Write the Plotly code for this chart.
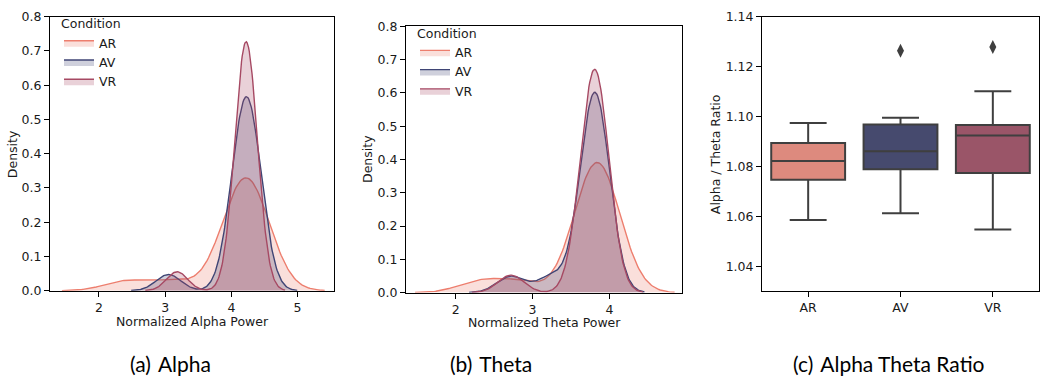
import numpy as np
import plotly.graph_objects as go

W, H = 1043, 390

conditions = ["AR", "AV", "VR"]
line_colors = ["#ed7e6e", "#3f4575", "#a64963"]
fill_colors = ["rgba(237,126,110,0.25)", "rgba(63,69,117,0.25)", "rgba(166,73,99,0.25)"]
box_colors = ["#dd8a7e", "#464a6e", "#9a5568"]

# Normalized alpha power samples per condition
alpha_ar = [2.40, 3.10, 3.98, 4.02, 4.08, 4.12, 4.16, 4.20, 4.22, 4.25, 4.28, 4.32, 4.36, 4.40, 4.45]
alpha_av = [3.05, 4.02, 4.08, 4.12, 4.15, 4.18, 4.20, 4.22, 4.23, 4.25, 4.28, 4.31, 4.34, 4.37, 4.43]
alpha_vr = [3.18, 4.11, 4.14, 4.17, 4.18, 4.20, 4.21, 4.22, 4.22, 4.24, 4.25, 4.26, 4.28, 4.30, 4.33]

# Normalized theta power samples per condition
theta_ar = [2.30, 2.80, 3.66, 3.70, 3.74, 3.77, 3.80, 3.82, 3.84, 3.86, 3.88, 3.91, 3.94, 3.98, 4.02]
theta_av = [2.72, 3.25, 3.70, 3.73, 3.75, 3.77, 3.79, 3.80, 3.81, 3.82, 3.84, 3.85, 3.87, 3.89, 3.91]
theta_vr = [2.72, 3.66, 3.70, 3.73, 3.76, 3.78, 3.79, 3.80, 3.81, 3.83, 3.85, 3.87, 3.88, 3.90, 3.93]

# Alpha / Theta ratio box statistics
ratio_q1 = [1.0747, 1.0789, 1.0774]
ratio_median = [1.0822, 1.0861, 1.0924]
ratio_q3 = [1.0894, 1.0968, 1.0966]
ratio_lowerfence = [1.0586, 1.0613, 1.0548]
ratio_upperfence = [1.0974, 1.0995, 1.1101]
outlier_condition = ["AV", "VR"]
outlier_value = [1.1263, 1.1279]

alpha_ticks = [2, 3, 4, 5]
theta_ticks = [2, 3, 4]
density_ticks = [0.0, 0.1, 0.2, 0.3, 0.4, 0.5, 0.6, 0.7, 0.8]
ratio_ticks = [1.04, 1.06, 1.08, 1.10, 1.12, 1.14]


def kde_curve(samples, n_total, gridsize=200, cut=3):
    x = np.asarray(samples, float)
    n = x.size
    bw = n ** (-1 / 5) * x.std(ddof=1)
    grid = np.linspace(x.min() - cut * bw, x.max() + cut * bw, gridsize)
    dens = np.exp(-0.5 * ((grid[:, None] - x[None, :]) / bw) ** 2).sum(1)
    dens /= n * bw * np.sqrt(2 * np.pi)
    return grid, dens * n / n_total


def px_x(p):
    return p / W


def px_y(p):
    return 1 - p / H


FONT = "DejaVu Sans, Verdana, Bitstream Vera Sans, sans-serif"
FS = 12.5
LFS = 12.5
TXT = "#1a1a1a"

fig = go.Figure()

for panel, groups, xa, ya, leg in [
    ("a", [alpha_ar, alpha_av, alpha_vr], "x", "y", "legend"),
    ("b", [theta_ar, theta_av, theta_vr], "x2", "y2", "legend2"),
]:
    n_total = sum(len(g) for g in groups)
    for i, g in enumerate(groups):
        gx, gy = kde_curve(g, n_total)
        fig.add_trace(go.Scatter(
            x=gx, y=gy, mode="lines", fill="tozeroy",
            fillcolor=fill_colors[i],
            line=dict(color=line_colors[i], width=1.4),
            name=conditions[i], xaxis=xa, yaxis=ya, legend=leg,
            showlegend=True,
        ))

for i, c in enumerate(conditions):
    fig.add_trace(go.Box(
        x=[c], q1=[ratio_q1[i]], median=[ratio_median[i]], q3=[ratio_q3[i]],
        lowerfence=[ratio_lowerfence[i]], upperfence=[ratio_upperfence[i]],
        fillcolor=box_colors[i], line=dict(color="#3f3f3f", width=2),
        whiskerwidth=0.5, width=0.8, boxpoints=False,
        xaxis="x3", yaxis="y3", showlegend=False, name=c,
    ))

fig.add_trace(go.Scatter(
    x=outlier_condition, y=outlier_value, mode="markers",
    marker=dict(symbol="diamond-tall", size=10, color="#3f3f3f"),
    xaxis="x3", yaxis="y3", showlegend=False,
))

axis_common = dict(
    showline=True, linecolor="black", linewidth=1, mirror=True,
    ticks="outside", ticklen=5, tickwidth=1, tickcolor="black",
    showgrid=False, zeroline=False,
    tickfont=dict(family=FONT, size=FS, color=TXT),
)

legend_common = dict(
    title=dict(text="Condition", font=dict(family=FONT, size=LFS, color=TXT)),
    font=dict(family=FONT, size=LFS, color=TXT),
    xanchor="left", yanchor="top", tracegroupgap=0,
    bgcolor="rgba(0,0,0,0)", borderwidth=0,
)

fig.update_layout(
    width=W, height=H,
    margin=dict(l=0, r=0, t=0, b=0),
    paper_bgcolor="white", plot_bgcolor="white",
    xaxis=dict(domain=[px_x(50), px_x(334)], anchor="y", range=[1.26, 5.55],
               tickvals=alpha_ticks, **axis_common),
    yaxis=dict(domain=[px_y(294), px_y(9)], anchor="x", range=[0, 0.8],
               tickvals=density_ticks, tickformat=".1f", **axis_common),
    xaxis2=dict(domain=[px_x(406), px_x(682)], anchor="y2", range=[1.355, 4.944],
                tickvals=theta_ticks, **axis_common),
    yaxis2=dict(domain=[px_y(296), px_y(19)], anchor="x2", range=[0, 0.8],
                tickvals=density_ticks, tickformat=".1f", **axis_common),
    xaxis3=dict(domain=[px_x(762), px_x(1039)], anchor="y3", range=[-0.5, 2.5],
                type="category", categoryarray=conditions, **axis_common),
    yaxis3=dict(domain=[px_y(294), px_y(9)], anchor="x3", range=[1.0303, 1.14],
                tickvals=ratio_ticks, tickformat=".2f", **axis_common),
    legend=dict(x=px_x(59), y=px_y(4), **legend_common),
    legend2=dict(x=px_x(415), y=px_y(14), **legend_common),
    showlegend=True,
)

annotations = [
    dict(text="Density", x=px_x(12), y=px_y(152), textangle=-90),
    dict(text="Density", x=px_x(368), y=px_y(157), textangle=-90),
    dict(text="Alpha / Theta Ratio", x=px_x(715), y=px_y(152), textangle=-90),
    dict(text="Normalized Alpha Power", x=px_x(192), y=px_y(326)),
    dict(text="Normalized Theta Power", x=px_x(544), y=px_y(327)),
]
for a in annotations:
    fig.add_annotation(xref="paper", yref="paper", showarrow=False,
                       xanchor="center", yanchor="middle",
                       font=dict(family=FONT, size=FS, color=TXT), **a)

captions = [("(a)\u2004Alpha", 170), ("(b)\u2004Theta", 491), ("(c)\u2004Alpha Theta Ratio", 889)]
for text, cx in captions:
    fig.add_annotation(xref="paper", yref="paper", showarrow=False,
                       x=px_x(cx), y=px_y(370), xanchor="center", yanchor="middle",
                       text=text, font=dict(family="Lato", size=21, color="black"))

fig.write_html("out.html")
